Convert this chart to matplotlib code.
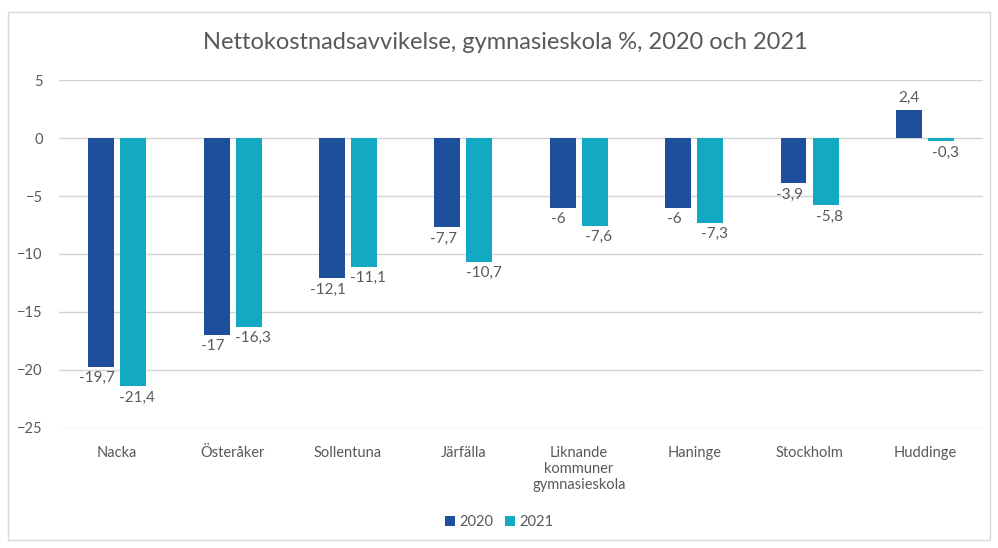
import numpy as np
import matplotlib.pyplot as plt
from matplotlib.patches import Rectangle

# Data
categories = ['Nacka', 'Österåker', 'Sollentuna', 'Järfälla',
              'Liknande\nkommuner\ngymnasieskola', 'Haninge', 'Stockholm', 'Huddinge']
values_2020 = [-19.7, -17, -12.1, -7.7, -6, -6, -3.9, 2.4]
values_2021 = [-21.4, -16.3, -11.1, -10.7, -7.6, -7.3, -5.8, -0.3]
series_names = ['2020', '2021']

plt.rcParams['font.family'] = ['Lato', 'DejaVu Sans']
text_color = '#595959'
col_2020 = '#1D4F9C'
col_2021 = '#14A9C2'

fig = plt.figure(figsize=(9.98, 5.48), dpi=100)
ax = fig.add_axes([0.0596, 0.219, 0.925, 0.635])

x = np.arange(len(categories))
w = 0.225
off = 0.139
b1 = ax.bar(x - off, values_2020, w, color=col_2020, label=series_names[0], zorder=3)
b2 = ax.bar(x + off, values_2021, w, color=col_2021, label=series_names[1], zorder=3)

def fmt(v):
    return ('%g' % v).replace('.', ',')

# etiketter under/över staplarna
for bars, vals, dx in [(b1, values_2020, -3), (b2, values_2021, 3)]:
    for bar, v in zip(bars, vals):
        cx = bar.get_x() + bar.get_width() / 2
        if v >= 0:
            ax.annotate(fmt(v), (cx, v), xytext=(0, 4), textcoords='offset points',
                        ha='center', va='bottom', fontsize=11, color=text_color)
        else:
            ax.annotate(fmt(v), (cx, v), xytext=(dx, -3), textcoords='offset points',
                        ha='center', va='top', fontsize=11, color=text_color)

ax.set_ylim(-25, 5)
ax.set_xlim(-0.5, len(categories) - 0.5)
ax.set_yticks(np.arange(-25, 6, 5))
ax.yaxis.grid(True, color='#D4D4D4', linewidth=1, zorder=0)
ax.set_axisbelow(True)
for s in ax.spines.values():
    s.set_visible(False)
ax.tick_params(axis='both', length=0, colors=text_color, labelsize=10.5)
ax.tick_params(axis='y', pad=12)
ax.set_xticks(x)
ax.set_xticklabels(categories, va='top', linespacing=1.2)
ax.tick_params(axis='x', pad=13)

fig.text(0.506, 0.923, 'Nettokostnadsavvikelse, gymnasieskola %, 2020 och 2021',
         ha='center', va='center', fontsize=17, color=text_color)

leg = fig.legend(handles=[b1, b2], loc='center', bbox_to_anchor=(0.5, 0.047), ncol=2,
                 frameon=False, fontsize=10.5, handlelength=0.7, handleheight=0.7,
                 handletextpad=0.3, columnspacing=0.8)
for t in leg.get_texts():
    t.set_color(text_color)

# ram runt figuren
fig.patches.append(Rectangle((0.008, 0.015), 0.984, 0.963, transform=fig.transFigure,
                             fill=False, edgecolor='#D9D9D9', linewidth=1))

fig.savefig('out.png', dpi=100)
